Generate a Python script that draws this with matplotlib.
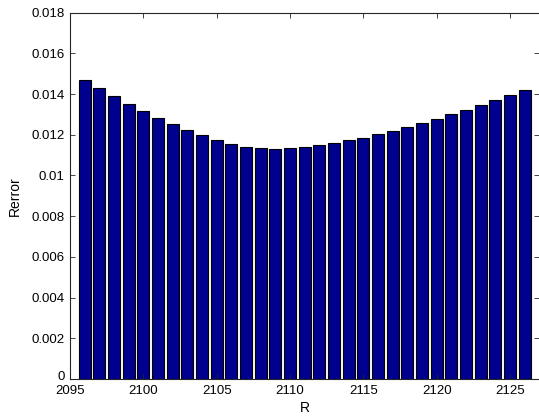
import matplotlib
matplotlib.use("Agg")
import matplotlib.pyplot as plt
import matplotlib.transforms as mtransforms

# Relative error for each candidate R
r_values = list(range(2096, 2127))
rerror = [
    0.01470, 0.01430, 0.01390, 0.01352, 0.01315, 0.01282, 0.01253, 0.01223,
    0.01197, 0.01174, 0.01156, 0.01141, 0.01133, 0.01131, 0.01135, 0.01141,
    0.01151, 0.01159, 0.01172, 0.01185, 0.01203, 0.01220, 0.01239, 0.01259,
    0.01279, 0.01302, 0.01323, 0.01346, 0.01371, 0.01395, 0.01421,
]
x_ticks = [2095, 2100, 2105, 2110, 2115, 2120, 2125]
y_ticks = [0, 0.002, 0.004, 0.006, 0.008, 0.01, 0.012, 0.014, 0.016, 0.018]
y_tick_labels = ["0", "0.002", "0.004", "0.006", "0.008", "0.01",
                 "0.012", "0.014", "0.016", "0.018"]

plt.rcParams["font.family"] = ["Liberation Sans", "DejaVu Sans"]

W, H = 539, 419
fig = plt.figure(figsize=(W / 100, H / 100), dpi=100)
left, right, top, bottom = 70, 539.3, 12.6, 379
ax = fig.add_axes([left / W, 1 - bottom / H, (right - left) / W, (bottom - top) / H])

ax.bar(r_values, rerror, width=0.8, color="#00008F", edgecolor="black",
       linewidth=0.8)

ax.set_xlim(2095, 2127)
ax.set_ylim(0, 0.018)
ax.set_xticks(x_ticks)
ax.set_xticklabels([str(t) for t in x_ticks])
ax.set_yticks(y_ticks)
ax.set_yticklabels(y_tick_labels)

ax.tick_params(direction="in", length=3.3, width=0.6, labelsize=9.5,
               top=True, right=True, colors="#262626", labelcolor="black")
ax.tick_params(axis="x", pad=4.5)
ax.tick_params(axis="y", pad=4)
for side in ["left", "top", "bottom"]:
    ax.spines[side].set_linewidth(0.8)
    ax.spines[side].set_color("#262626")
ax.spines["right"].set_visible(False)

# lift the "0" label a little so it clears the first x tick label
zero_label = ax.get_yticklabels()[0]
zero_label.set_transform(zero_label.get_transform() +
                         mtransforms.ScaledTranslation(0, 2.5 / 72, fig.dpi_scale_trans))

ax.set_xlabel("R", fontsize=10, labelpad=2.5)
ax.set_ylabel("Rerror", fontsize=10, labelpad=7)

fig.savefig("out.png", dpi=100)
